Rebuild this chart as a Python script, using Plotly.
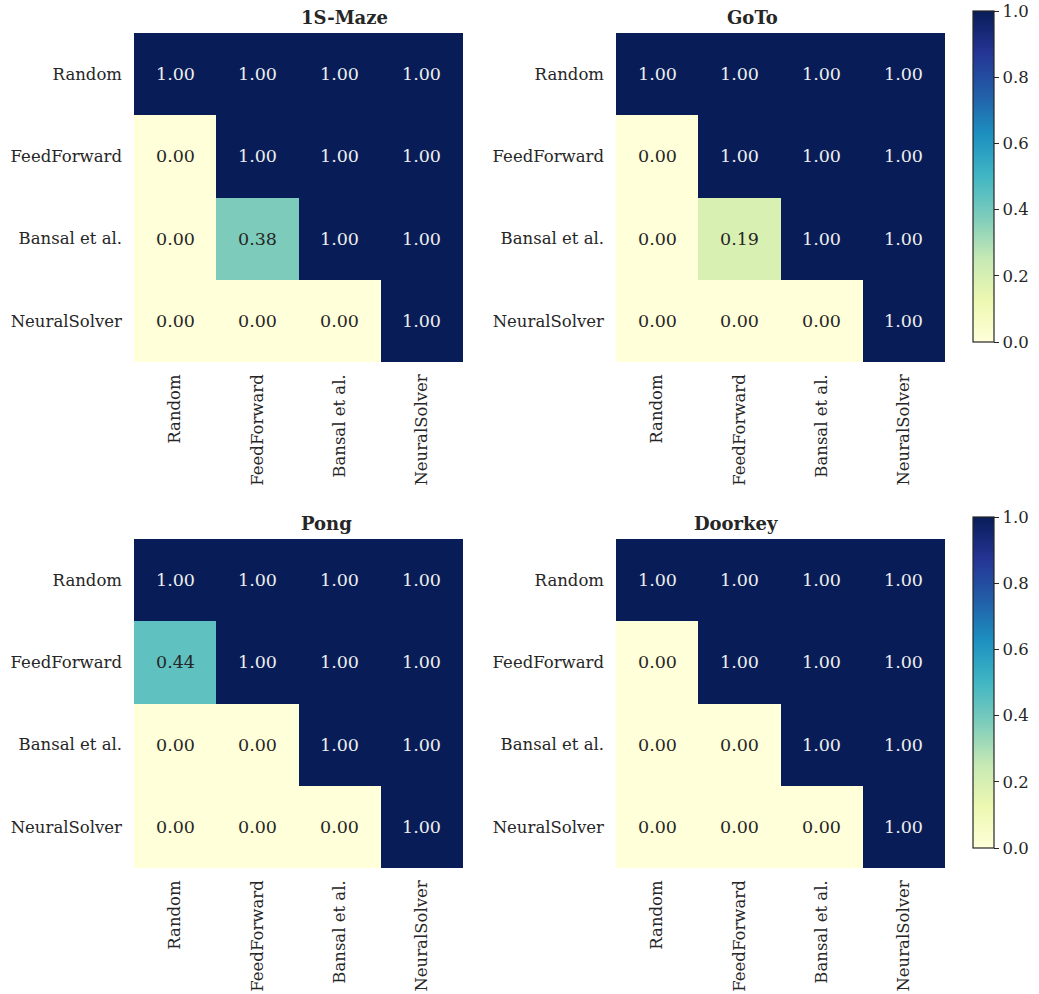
import plotly.graph_objects as go
from plotly.colors import sequential

methods = ["Random", "FeedForward", "Bansal et al.", "NeuralSolver"]
titles = ["1S-Maze", "GoTo", "Pong", "Doorkey"]

maze = [[1.00, 1.00, 1.00, 1.00],
        [0.00, 1.00, 1.00, 1.00],
        [0.00, 0.38, 1.00, 1.00],
        [0.00, 0.00, 0.00, 1.00]]
goto = [[1.00, 1.00, 1.00, 1.00],
        [0.00, 1.00, 1.00, 1.00],
        [0.00, 0.19, 1.00, 1.00],
        [0.00, 0.00, 0.00, 1.00]]
pong = [[1.00, 1.00, 1.00, 1.00],
        [0.44, 1.00, 1.00, 1.00],
        [0.00, 0.00, 1.00, 1.00],
        [0.00, 0.00, 0.00, 1.00]]
doorkey = [[1.00, 1.00, 1.00, 1.00],
           [0.00, 1.00, 1.00, 1.00],
           [0.00, 0.00, 1.00, 1.00],
           [0.00, 0.00, 0.00, 1.00]]
matrices = [maze, goto, pong, doorkey]

W, H = 1039, 994
ML, MR, MT, MB = 0, 50, 10, 0
PW, PH = W - ML - MR, H - MT - MB
FONT = "DejaVu Serif"
TXT = "#262626"


def px(x):
    return (x - ML) / PW


def py(y):
    return (H - MB - y) / PH


xdoms = [(px(134), px(463)), (px(616), px(945))]
ydoms = [(py(362), py(33)), (py(868), py(539))]
cb_ranges = [(11, 342), (517, 848)]

fig = go.Figure()
annotations = []
for i, (title, z) in enumerate(zip(titles, matrices)):
    r, c = divmod(i, 2)
    ax = "" if i == 0 else str(i + 1)
    show_cb = (c == 1)
    t0, t1 = cb_ranges[r]
    cb = dict(
        x=px(973), xanchor="left", xpad=0, ypad=0, thickness=21,
        y=py((t0 + t1) / 2), yanchor="middle", len=(t1 - t0) / PH, lenmode="fraction",
        outlinewidth=1.2, outlinecolor=TXT,
        tickvals=[0, 0.2, 0.4, 0.6, 0.8, 1.0], tickformat=".1f",
        ticks="outside", ticklen=5, tickcolor=TXT,
        tickfont=dict(family=FONT, size=16.5, color=TXT),
    )
    fig.add_trace(go.Heatmap(
        z=z, x=methods, y=methods,
        colorscale=sequential.YlGnBu, zmin=0, zmax=1,
        showscale=show_cb, colorbar=cb if show_cb else None,
        xaxis="x" + ax, yaxis="y" + ax, hoverinfo="skip",
    ))
    fig.layout["xaxis" + ax] = dict(
        domain=xdoms[c], anchor="y" + ax, tickangle=-90, automargin=False,
        showgrid=False, zeroline=False, showline=False, ticks="",
        tickfont=dict(family=FONT, size=16.5, color=TXT), ticklabelstandoff=8,
    )
    fig.layout["yaxis" + ax] = dict(
        domain=ydoms[r], anchor="x" + ax, autorange="reversed", automargin=False,
        showgrid=False, zeroline=False, showline=False, ticks="",
        tickfont=dict(family=FONT, size=16.5, color=TXT), ticklabelstandoff=11,
    )
    for yi, row in enumerate(z):
        for xi, v in enumerate(row):
            annotations.append(dict(
                x=methods[xi], y=methods[yi], xref="x" + ax, yref="y" + ax,
                text=f"{v:.2f}", showarrow=False,
                font=dict(family=FONT, size=17.5,
                          color="#eeeeee" if v > 0.6 else TXT),
            ))
    annotations.append(dict(
        x=(xdoms[c][0] + xdoms[c][1]) / 2, y=ydoms[r][1], xref="paper", yref="paper",
        yanchor="bottom", yshift=3, text=f"<b>{title}</b>", showarrow=False,
        font=dict(family=FONT, size=18, color=TXT),
    ))

fig.update_layout(
    width=W, height=H, margin=dict(l=ML, r=MR, t=MT, b=MB),
    plot_bgcolor="white", paper_bgcolor="white",
    annotations=annotations,
)
fig.write_html("out.html", config={"displayModeBar": False},
               post_script="document.body.style.margin='0';")
